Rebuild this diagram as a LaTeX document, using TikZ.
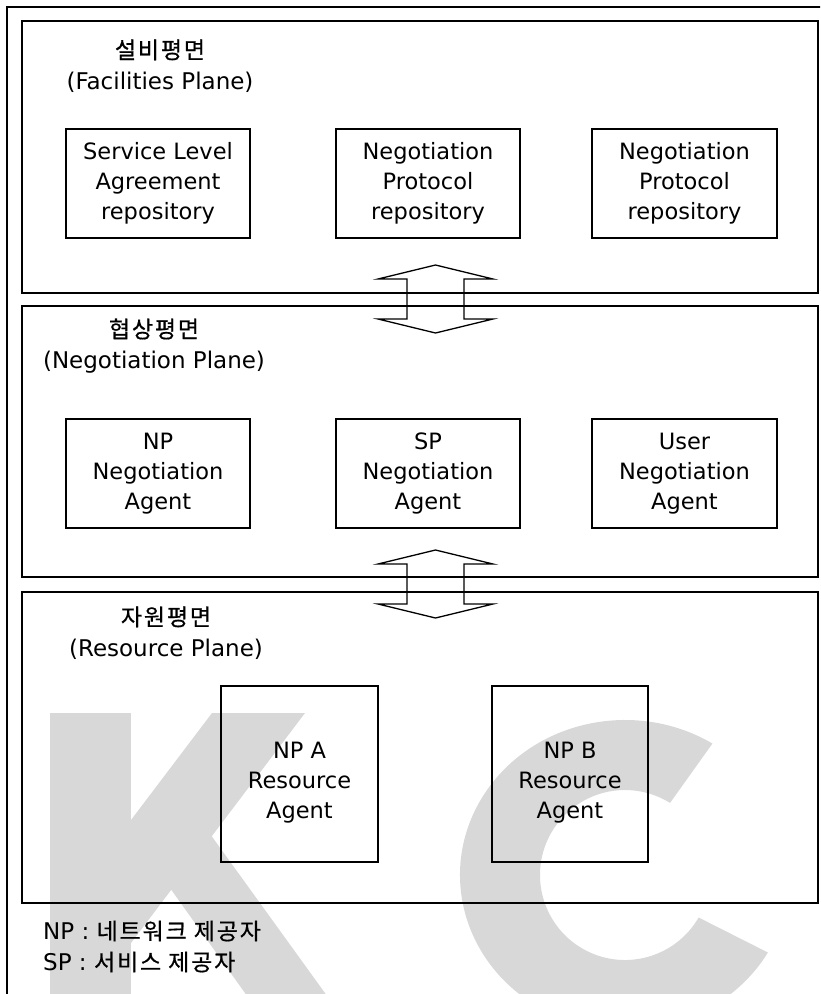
\documentclass[tikz,border=0pt]{standalone}
\usepackage{fontspec}
\setmainfont{DejaVu Sans}
\newfontfamily\kor[LetterSpace=8,FakeBold=0.6]{Noto Sans CJK KR}
\usetikzlibrary{calc,positioning}
\definecolor{kcwater}{HTML}{D8D8D8}
\tikzset{
  planebox/.style={draw=black,line width=1.3pt},
  agentbox/.style={draw=black,line width=1.3pt,align=center,inner sep=0pt,
    font=\fontsize{22.5}{30}\selectfont},
  planelabel/.style={align=center,inner sep=0pt,font=\fontsize{23}{31}\selectfont},
  legendtext/.style={anchor=west,inner sep=0pt,font=\fontsize{23}{31}\selectfont},
}
% block arrow between two planes, centred on a coordinate
\newcommand{\blockarrow}[1]{%
  \draw[planebox,line join=miter] ($(#1)+(0,-34)$) -- ++(57.5,14) -- ++(-29,0)
    -- ++(0,40) -- ++(29,0) -- ++(-57.5,14) -- ++(-57.5,-14) -- ++(29,0)
    -- ++(0,-40) -- ++(-29,0) -- cycle;}

\begin{document}
\begin{tikzpicture}[x=1pt,y=-1pt]
  \useasboundingbox (0,0) rectangle (820,994);
  \clip (0,0) rectangle (820,994);

  % watermark
  \fill[kcwater] (50,713) rectangle (131,1000);
  \fill[kcwater] (212,713) -- (305,713) -- (131,943) -- (131,820) -- cycle;
  \fill[kcwater] (150,860) -- (200,820) -- (330,1000) -- (250,1000) -- cycle;
  \fill[kcwater] ($(625,875)+(-58:165 and 155)$) arc[start angle=-58,end angle=-330,x radius=165,y radius=155]
    -- ($(625,875)+(-330:85 and 85)$) arc[start angle=-330,end angle=-58,x radius=85,y radius=85] -- cycle;

  % outer frame
  \draw[planebox] (7,1000) -- (7,7) -- (830,7);

  % planes
  \node[planebox,minimum width=796pt,minimum height=272pt] (facplane) at (420,157) {};
  \node[planebox,minimum width=796pt,minimum height=271pt] (negplane) at (420,441.5) {};
  \node[planebox,minimum width=796pt,minimum height=311pt] (resplane) at (420,747.5) {};

  \node[planelabel] (factitle) at (160,66) {{\kor 설비평면}\\(Facilities Plane)};
  \node[planelabel] (negtitle) at (154,346) {{\kor 협상평면}\\(Negotiation Plane)};
  \node[planelabel] (restitle) at (166,633) {{\kor 자원평면}\\(Resource Plane)};

  % facilities plane
  \node[agentbox,minimum width=184pt,minimum height=109pt] (slarepo) at (158,183.5) {Service Level\\Agreement\\repository};
  \node[agentbox,minimum width=184pt,minimum height=109pt] (nprepoa) at (428,183.5) {Negotiation\\Protocol\\repository};
  \node[agentbox,minimum width=185pt,minimum height=109pt] (nprepob) at (684.5,183.5) {Negotiation\\Protocol\\repository};

  % negotiation plane
  \node[agentbox,minimum width=184pt,minimum height=109pt] (npagent) at (158,473.5) {NP\\Negotiation\\Agent};
  \node[agentbox,minimum width=184pt,minimum height=109pt] (spagent) at (428,473.5) {SP\\Negotiation\\Agent};
  \node[agentbox,minimum width=185pt,minimum height=109pt] (useragent) at (684.5,473.5) {User\\Negotiation\\Agent};

  % resource plane
  \node[agentbox,minimum width=157pt,minimum height=176pt] (npares) at (299.5,774) {\rule{0pt}{34pt}NP A\\Resource\\Agent};
  \node[agentbox,minimum width=156pt,minimum height=176pt] (npbres) at (570,774) {\rule{0pt}{34pt}NP B\\Resource\\Agent};

  % links between planes
  \coordinate (facneg) at (435.5,299);
  \coordinate (negres) at (435.5,584);
  \blockarrow{facneg}
  \blockarrow{negres}

  % legend
  \node[legendtext] (legnp) at (43,931) {NP : {\kor 네트워크 제공자}};
  \node[legendtext] (legsp) at (43,962) {SP : {\kor 서비스 제공자}};
\end{tikzpicture}
\end{document}
